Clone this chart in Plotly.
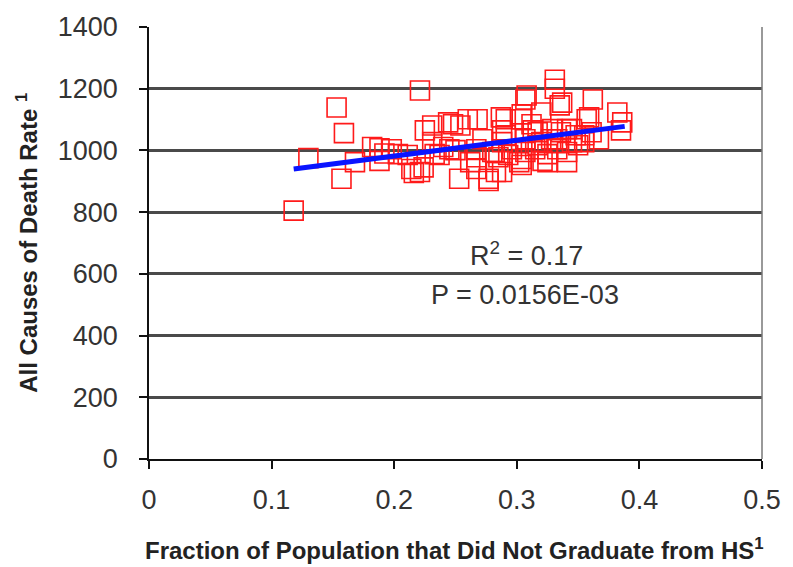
import plotly.graph_objects as go

# Fraction of population without a high-school diploma vs. all-cause death rate
frac_no_hs = [
    0.118, 0.130, 0.153, 0.159, 0.157, 0.168, 0.182, 0.188, 0.188, 0.192,
    0.198, 0.203, 0.211, 0.214, 0.216, 0.221, 0.221, 0.224, 0.225, 0.231,
    0.231, 0.233, 0.237, 0.240, 0.244, 0.245, 0.248, 0.250, 0.253, 0.254,
    0.260, 0.262, 0.267, 0.268, 0.267, 0.267, 0.272, 0.277, 0.277, 0.280,
    0.282, 0.283, 0.285, 0.287, 0.288, 0.288, 0.288, 0.291, 0.291, 0.293,
    0.296, 0.302, 0.304, 0.304, 0.304, 0.304, 0.307, 0.307, 0.307, 0.308,
    0.312, 0.313, 0.315, 0.317, 0.317, 0.320, 0.320, 0.321, 0.325, 0.325,
    0.328, 0.329, 0.331, 0.331, 0.333, 0.333, 0.335, 0.336, 0.337, 0.341,
    0.341, 0.341, 0.345, 0.345, 0.348, 0.350, 0.355, 0.355, 0.357, 0.359,
    0.361, 0.362, 0.367, 0.382, 0.385, 0.386,
]
death_rate = [
    805, 975, 1139, 1056, 908, 962, 1011, 1007, 966, 990,
    1004, 988, 985, 940, 927, 930, 1194, 945, 1065, 1081,
    1027, 988, 985, 1011, 1091, 1004, 1085, 1001, 908, 1081,
    1101, 962, 978, 1101, 1004, 940, 1036, 908, 901, 995,
    995, 930, 978, 1107, 1065, 1027, 930, 1101, 1049, 985,
    1004, 962, 1117, 1101, 972, 953, 1036, 995, 1165, 1178,
    1085, 1065, 1004, 1059, 1017, 1027, 1123, 966, 988, 962,
    1036, 1069, 1229, 1200, 1004, 1036, 1146, 1059, 1155, 1069,
    962, 995, 1027, 1069, 1049, 1017, 1049, 1027, 1101, 1107,
    1059, 1165, 1036, 1123, 1065, 1091,
]

# Least-squares trend line end points
trend_x = [0.118, 0.388]
trend_y = [940, 1078]

r2_text = "R<sup>2</sup> = 0.17"
p_text = "P = 0.0156E-03"

x_ticks = [0, 0.1, 0.2, 0.3, 0.4, 0.5]
x_tick_text = ["0", "0.1", "0.2", "0.3", "0.4", "0.5"]
y_ticks = [0, 200, 400, 600, 800, 1000, 1200, 1400]

FONT = "Liberation Sans, Arial, sans-serif"

fig = go.Figure()
fig.add_trace(go.Scatter(
    x=frac_no_hs, y=death_rate, mode="markers",
    marker=dict(symbol="square-open", size=19, color="#ff1a1a",
                line=dict(color="#ff1a1a", width=1.6)),
    showlegend=False, hoverinfo="x+y",
))
fig.add_trace(go.Scatter(
    x=trend_x, y=trend_y, mode="lines",
    line=dict(color="#0a14ff", width=5),
    showlegend=False, hoverinfo="skip",
))

fig.update_layout(
    width=793, height=567,
    margin=dict(l=149, r=25, t=24, b=108),
    paper_bgcolor="white", plot_bgcolor="white",
    font=dict(family=FONT, color="#222"),
    xaxis=dict(
        range=[0, 0.5], tickvals=x_ticks, ticktext=x_tick_text,
        showgrid=False, zeroline=False,
        showline=True, linecolor="#111", linewidth=1.5,
        ticks="outside", ticklen=8, tickcolor="#111", tickwidth=1.5,
        ticklabelstandoff=8,
        tickfont=dict(size=27, family=FONT, color="#333"),
    ),
    yaxis=dict(
        range=[0, 1400], tickvals=y_ticks,
        showgrid=True, gridcolor="#4a4a4a", gridwidth=2.5,
        zeroline=False,
        showline=True, linecolor="#111", linewidth=1.5,
        ticks="outside", ticklen=8, tickcolor="#111", tickwidth=1.5,
        ticklabelstandoff=16,
        tickfont=dict(size=27, family=FONT, color="#333"),
    ),
    shapes=[dict(type="line", xref="paper", yref="paper",
                 x0=1, x1=1, y0=0, y1=1,
                 line=dict(color="#777", width=1.5))],
    annotations=[
        dict(x=0.308, y=663, xref="x", yref="y", text=r2_text,
             xanchor="center", yanchor="middle",
             showarrow=False, font=dict(size=27, family=FONT, color="#333")),
        dict(x=0.307, y=531, xref="x", yref="y", text=p_text,
             xanchor="center", yanchor="middle",
             showarrow=False, font=dict(size=27, family=FONT, color="#333")),
        dict(x=0.4976, y=-0.209, xref="paper", yref="paper",
             xanchor="center", yanchor="middle",
             text="<b>Fraction of Population that Did Not Graduate from HS<sup>1</sup></b>",
             showarrow=False, font=dict(size=24, family=FONT, color="#222")),
        dict(x=-0.2003, y=0.501, xref="paper", yref="paper", textangle=-90,
             xanchor="center", yanchor="middle",
             text="<b>All Causes of Death Rate <sup>1</sup></b>",
             showarrow=False, font=dict(size=24, family=FONT, color="#222")),
    ],
)

fig.write_html("out.html")
